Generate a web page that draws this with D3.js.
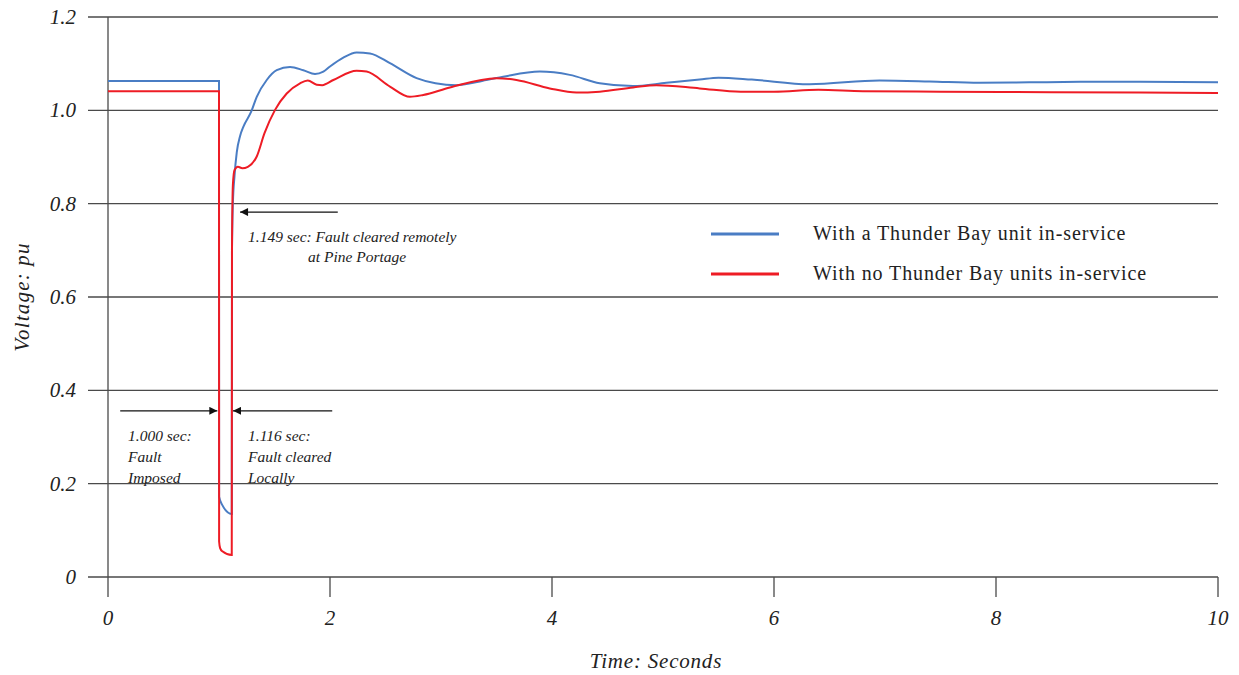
<!DOCTYPE html>
<html>
<head>
<meta charset="utf-8">
<script src="https://cdn.jsdelivr.net/npm/d3@7"></script>
<style>
  body { margin: 0; background: #fff; }
  svg text { font-family: "Liberation Serif", "DejaVu Serif", serif; fill: #222; }
</style>
</head>
<body>
<script>
// time (s) / voltage (pu)
var blueT = [0, 1.0, 1.001, 1.03, 1.115, 1.117, 1.125, 1.14, 1.16, 1.19, 1.22, 1.29, 1.34, 1.43, 1.52, 1.64, 1.76, 1.865, 1.94, 2.0, 2.12, 2.24, 2.36, 2.54, 2.78, 2.95, 3.14, 3.35, 3.56, 3.89, 4.16, 4.43, 4.73, 5.03, 5.33, 5.5, 5.8, 6.32, 6.95, 7.4, 7.85, 8.3, 8.76, 9.3, 10];
var blueV = [1.063, 1.063, 0.172, 0.154, 0.135, 0.70, 0.80, 0.86, 0.91, 0.945, 0.965, 0.997, 1.029, 1.065, 1.086, 1.093, 1.086, 1.078, 1.083, 1.094, 1.113, 1.124, 1.122, 1.101, 1.069, 1.058, 1.054, 1.062, 1.072, 1.083, 1.076, 1.058, 1.052, 1.059, 1.066, 1.070, 1.066, 1.056, 1.064, 1.062, 1.059, 1.060, 1.061, 1.061, 1.060];
var redT = [0, 1.0, 1.001, 1.01, 1.03, 1.115, 1.117, 1.125, 1.14, 1.17, 1.21, 1.26, 1.34, 1.41, 1.505, 1.61, 1.73, 1.80, 1.88, 1.93, 2.03, 2.24, 2.33, 2.54, 2.72, 2.84, 3.08, 3.5, 3.68, 3.98, 4.22, 4.43, 4.73, 4.94, 5.33, 5.7, 6.0, 6.4, 6.8, 7.5, 8.5, 9.3, 10];
var redV = [1.041, 1.041, 0.076, 0.062, 0.055, 0.047, 0.70, 0.84, 0.872, 0.879, 0.876, 0.879, 0.901, 0.951, 1.001, 1.036, 1.058, 1.064, 1.055, 1.054, 1.065, 1.085, 1.083, 1.051, 1.029, 1.033, 1.049, 1.069, 1.065, 1.047, 1.038, 1.040, 1.049, 1.054, 1.047, 1.040, 1.040, 1.044, 1.041, 1.040, 1.039, 1.038, 1.037];

var xTicks = [0, 2, 4, 6, 8, 10];
var yTicks = [0, 0.2, 0.4, 0.6, 0.8, 1.0, 1.2];
var yTickLabels = ['0', '0.2', '0.4', '0.6', '0.8', '1.0', '1.2'];
var seriesNames = ['With a Thunder Bay unit in-service', 'With no Thunder Bay units in-service'];
var seriesColors = ['#4a7dc4', '#ee1c25'];

var width = 1239, height = 675;
var svg = d3.select('body').append('svg')
  .attr('width', width)
  .attr('height', height);

var x = d3.scaleLinear().domain([0, 10]).range([108, 1218]);
var y = d3.scaleLinear().domain([0, 1.2]).range([577, 17]);

// gridlines + left ticks
svg.append('g').selectAll('line')
  .data(yTicks)
  .enter().append('line')
    .attr('x1', 88).attr('x2', x(10))
    .attr('y1', function(d) { return y(d); })
    .attr('y2', function(d) { return y(d); })
    .attr('stroke', '#4a4a4a')
    .attr('stroke-width', 1.3);

svg.append('g').selectAll('text')
  .data(yTicks)
  .enter().append('text')
    .attr('x', 76)
    .attr('y', function(d) { return y(d) + 7; })
    .attr('text-anchor', 'end')
    .attr('font-size', 21)
    .attr('font-style', 'italic')
    .text(function(d, i) { return yTickLabels[i]; });

// y axis line
svg.append('line')
  .attr('x1', x(0)).attr('x2', x(0))
  .attr('y1', y(1.2)).attr('y2', y(0) + 20)
  .attr('stroke', '#4a4a4a').attr('stroke-width', 1.3);

// x axis ticks
svg.append('g').selectAll('line')
  .data(xTicks.slice(1))
  .enter().append('line')
    .attr('x1', function(d) { return x(d); })
    .attr('x2', function(d) { return x(d); })
    .attr('y1', y(0)).attr('y2', y(0) + 20)
    .attr('stroke', '#4a4a4a').attr('stroke-width', 1.3);

svg.append('g').selectAll('text')
  .data(xTicks)
  .enter().append('text')
    .attr('x', function(d) { return x(d); })
    .attr('y', 625)
    .attr('text-anchor', 'middle')
    .attr('font-size', 21)
    .attr('font-style', 'italic')
    .text(function(d) { return d; });

svg.append('text')
  .attr('x', 656).attr('y', 668)
  .attr('text-anchor', 'middle')
  .attr('font-size', 21)
  .attr('letter-spacing', 0.8)
  .attr('font-style', 'italic')
  .text('Time:  Seconds');

svg.append('text')
  .attr('transform', 'translate(29,297) rotate(-90)')
  .attr('text-anchor', 'middle')
  .attr('font-size', 21)
  .attr('letter-spacing', 1.2)
  .attr('font-style', 'italic')
  .text('Voltage:  pu');

// curves
var line = d3.line()
  .x(function(d) { return x(d[0]); })
  .y(function(d) { return y(d[1]); })
  .curve(d3.curveMonotoneX);

var series = [d3.zip(blueT, blueV), d3.zip(redT, redV)];
series.forEach(function(pts, i) {
  svg.append('path')
    .datum(pts)
    .attr('d', line)
    .attr('fill', 'none')
    .attr('stroke', seriesColors[i])
    .attr('stroke-width', 2);
});

// legend
seriesNames.forEach(function(name, i) {
  var ly = 234 + i * 40;
  svg.append('line')
    .attr('x1', 711).attr('x2', 779)
    .attr('y1', ly).attr('y2', ly)
    .attr('stroke', seriesColors[i]).attr('stroke-width', 3);
  svg.append('text')
    .attr('x', 813).attr('y', ly + 6)
    .attr('font-size', 20)
    .attr('letter-spacing', 0.9)
    .text(name);
});

// annotations
svg.append('defs').append('marker')
  .attr('id', 'head')
  .attr('viewBox', '0 0 10 10')
  .attr('refX', 10).attr('refY', 5)
  .attr('markerWidth', 14).attr('markerHeight', 8)
  .attr('markerUnits', 'userSpaceOnUse')
  .attr('orient', 'auto')
  .append('path')
    .attr('d', 'M0,0L10,5L0,10Z')
    .attr('fill', '#111');

var arrows = [
  [2.07, 1.19, 0.782],
  [0.11, 0.985, 0.356],
  [2.02, 1.126, 0.356]
];
arrows.forEach(function(a) {
  svg.append('line')
    .attr('x1', x(a[0])).attr('x2', x(a[1]))
    .attr('y1', y(a[2])).attr('y2', y(a[2]))
    .attr('stroke', '#111').attr('stroke-width', 1.2)
    .attr('marker-end', 'url(#head)');
});

var notes = [
  [248, 242, '1.149 sec:  Fault cleared remotely'],
  [308, 262, 'at Pine Portage'],
  [128, 441, '1.000 sec:'],
  [128, 462, 'Fault'],
  [128, 483, 'Imposed'],
  [248, 441, '1.116 sec:'],
  [248, 462, 'Fault cleared'],
  [248, 483, 'Locally']
];
notes.forEach(function(n) {
  svg.append('text')
    .attr('x', n[0]).attr('y', n[1])
    .attr('font-size', 15.5)
    .attr('font-style', 'italic')
    .text(n[2]);
});
</script>
</body>
</html>
